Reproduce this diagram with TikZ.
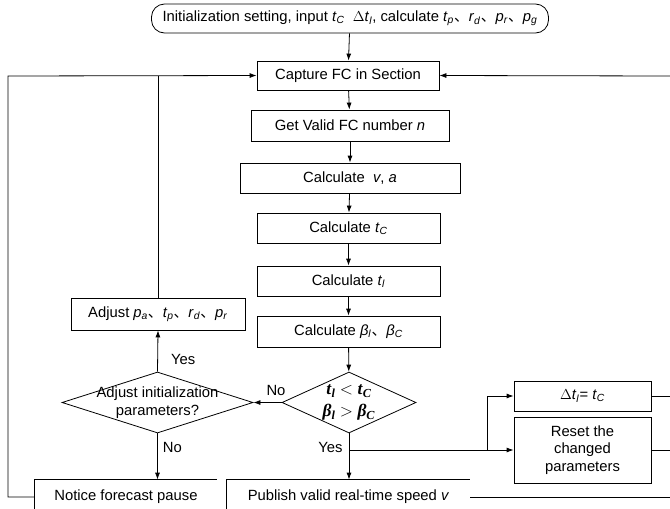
\documentclass[tikz,border=0pt]{standalone}
\usepackage{fontspec}
\setmainfont{Liberation Sans}
\newfontfamily\cjk{Noto Sans CJK SC}
\newfontfamily\condserif{Liberation Serif}
\usetikzlibrary{shapes.geometric}
\usetikzlibrary{arrows.meta}
\newcommand{\sv}[2]{\textit{#1}\textsubscript{\textit{#2}}}
\newcommand{\dun}{{\cjk 、}}

\begin{document}
\begin{tikzpicture}[x=1pt,y=-1pt,
	line width=0.8pt,
	every node/.style={font=\fontsize{14.8}{17.5}\selectfont},
	box/.style={draw,rectangle,inner sep=2pt,minimum height=30pt},
	startbox/.style={draw,rectangle,rounded corners=13pt,minimum width=397pt,minimum height=29pt,inner sep=1pt},
	choice/.style={draw,diamond,inner sep=0pt},
	lab/.style={inner sep=1pt},
	arr/.style={-{Latex[length=7pt,width=5pt]}}]
	\clip (0,0) rectangle (670,509);
	\node[startbox] (start) at (350,18.5) {Initialization setting, input \sv{t}{C}\ \ $\Delta$\sv{t}{l}, calculate \sv{t}{p}\dun\sv{r}{d}\dun\sv{p}{r}\dun\sv{p}{g}};
	\node[box,minimum width=182pt,minimum height=29pt] (capture) at (348,75.5) {Capture FC in Section};
	\node[box,minimum width=198pt,minimum height=31pt] (getvalid) at (350,125.5) {Get Valid FC number \textit{n}};
	\node[box,minimum width=220pt] (calcva) at (350,178) {Calculate\ \ \textit{v}, \textit{a}};
	\node[box,minimum width=183pt] (calctc) at (348.5,228) {Calculate \sv{t}{C}};
	\node[box,minimum width=183pt] (calctl) at (348.5,281) {Calculate \sv{t}{l}};
	\node[box,minimum width=183pt,minimum height=31pt] (calcbeta) at (348.5,331.5) {Calculate \sv{β}{l}\dun\sv{β}{C}};
	\node[choice,minimum width=134pt,minimum height=61pt] (judge) at (349,402.5) {};
	\node[lab,align=center,font=\condserif\bfseries\fontsize{17.5}{22}\selectfont] (judgetxt) at (judge) {\sv{t}{l} $<$ \sv{t}{C}\\\sv{β}{l} $>$ \sv{β}{C}};
	\node[choice,minimum width=191pt,minimum height=61pt] (askadj) at (157.5,402.5) {};
	\node[lab,align=center] (asktxt) at (askadj) {Adjust initialization\\parameters?};
	\node[box,minimum width=174pt,minimum height=32pt] (adjust) at (158,314) {Adjust \sv{p}{a}\dun\sv{t}{p}\dun\sv{r}{d}\dun\sv{p}{r}};
	\node[box,minimum width=137pt] (dt) at (582.5,396) {$\Delta$\sv{t}{l}= \sv{t}{C}};
	\node[box,minimum width=137pt,minimum height=66pt,align=center] (reset) at (582.5,450) {Reset the\\changed\\parameters};
	\node[minimum width=182pt,minimum height=34pt] (notice) at (126,497) {Notice forecast pause};
	\node[minimum width=243pt,minimum height=34pt] (publish) at (348.5,497) {Publish valid real-time speed \textit{v}};
	\draw (notice.south west) -- (notice.north west) -- (notice.north east);
	\draw (publish.south west) -- (publish.north west) -- (publish.north east);
	\coordinate (lefttop) at (8,76);
	\coordinate (righttop) at (670,76);
	\coordinate (fork) at (487,450);
	\draw[arr] (start) -- (capture);
	\draw[arr] (capture) -- (getvalid);
	\draw[arr] (getvalid) -- (calcva);
	\draw[arr] (calcva) -- (calctc);
	\draw[arr] (calctc) -- (calctl);
	\draw[arr] (calctl) -- (calcbeta);
	\draw[arr] (calcbeta) -- (judge);
	\draw[arr] (judge.west) -- (askadj.east) node[lab,pos=0.2,above=5pt] (nolabel) {No};
	\draw[arr] (askadj.north) -- (adjust.south) node[lab,pos=0.3,right=12pt] (yeslabel) {Yes};
	\draw[arr] (askadj.south) -- (askadj.south |- notice.north) node[lab,pos=0.3,right=4pt] (nolabeltwo) {No};
	\draw[arr] (judge.south) -- (judge.south |- publish.north) node[lab,pos=0.3,left=5pt] (yeslabeltwo) {Yes};
	\draw[arr] (judge.south |- fork) -- (reset.west);
	\draw[arr] (fork) |- (dt.west);
	\draw[arr] (notice.west) -| (lefttop) -- (capture.west);
	\draw (adjust.north) -- (adjust.north |- lefttop);
	\draw[arr] (righttop) -- (capture.east);
	\draw (dt.east) -- (dt.east -| righttop);
	\draw (reset.east) -- (reset.east -| righttop);
	\draw (publish.east) -- (publish.east -| righttop);
\end{tikzpicture}
\end{document}
